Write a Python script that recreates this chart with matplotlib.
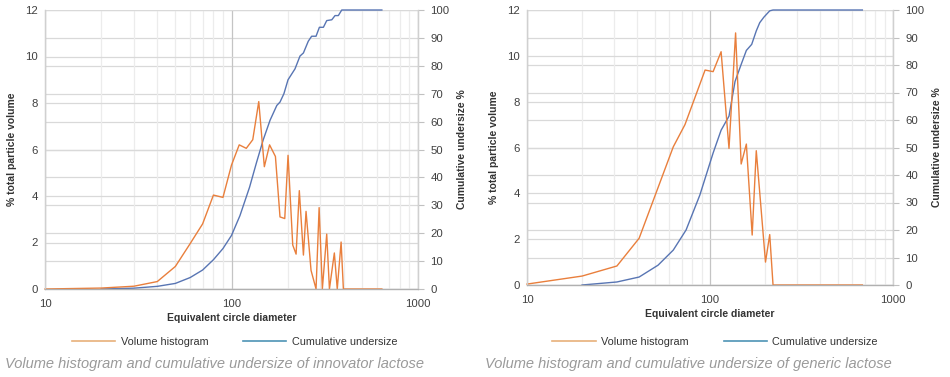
import matplotlib
matplotlib.use("Agg")
import matplotlib.pyplot as plt
from matplotlib.lines import Line2D
from matplotlib.ticker import LogLocator, FixedLocator, NullFormatter

plt.rcParams['font.family'] = ['Liberation Sans', 'DejaVu Sans']

# innovator lactose
inn_hist_x = [10, 20, 30, 40, 50, 60, 70, 80, 90, 100, 110, 120, 130, 140, 150, 160, 172,
              182, 193, 201, 213, 222, 231, 243, 251, 267, 284, 295, 307, 324, 335, 356,
              369, 387, 398, 640]
inn_hist_y = [0, 0.04, 0.12, 0.32, 0.97, 1.95, 2.8, 4.04, 3.94, 5.33, 6.2, 6.05, 6.42, 8.06,
              5.26, 6.2, 5.7, 3.1, 3.03, 5.75, 1.89, 1.5, 4.23, 1.46, 3.34, 0.8, 0, 3.5, 0,
              2.36, 0, 1.55, 0, 2.02, 0, 0]
inn_cum_x = [20, 30, 40, 50, 60, 70, 80, 90, 100, 111, 125, 136, 148, 161, 175, 182, 191,
             201, 219, 233, 243, 258, 269, 284, 296, 311, 324, 345, 359, 374, 390, 640]
inn_cum_y = [0, 0.3, 0.95, 2.0, 4.1, 6.8, 10.5, 14.5, 19.2, 26.3, 36.5, 45.2, 53.5, 60.5,
             65.8, 67.0, 70.0, 75.0, 78.9, 83.5, 84.6, 88.8, 90.6, 90.6, 93.8, 93.8, 96.2,
             96.5, 98.0, 98.0, 100, 100]

# generic lactose
gen_hist_x = [10, 20, 31, 41, 63, 73, 94, 104, 115, 127, 138, 148, 158, 170, 179, 201, 212,
              221, 680]
gen_hist_y = [0.04, 0.39, 0.83, 2.04, 6.03, 7.0, 9.38, 9.31, 10.18, 5.96, 11.0, 5.28, 6.15,
              2.18, 5.86, 1.0, 2.2, 0, 0]
gen_cum_x = [20, 31, 41, 52, 63, 74, 88, 104, 115, 127, 137, 148, 158, 169, 179, 187, 197,
             212, 221, 680]
gen_cum_y = [0, 1.1, 2.9, 7.2, 12.7, 20, 32.7, 48, 56.3, 61.4, 74, 80.2, 85.3, 87.5, 92.4,
             95.4, 97.4, 99.7, 100, 100]

captions = ["Volume histogram and cumulative undersize of innovator lactose",
            "Volume histogram and cumulative undersize of generic lactose"]

ORANGE = '#E97F3C'
BLUE = '#5875B3'
TXT = '#404040'


def draw(fig, rect, hx, hy, cx, cy, leg_x, leg_y):
    ax = fig.add_axes(rect)
    ax2 = ax.twinx()
    # left axes on top so both curves sit above every gridline
    ax.set_zorder(ax2.get_zorder() + 1)
    ax.patch.set_visible(False)

    ax.set_xscale('log')
    ax.set_xlim(10, 1000)
    ax.set_ylim(0, 12)
    ax2.set_ylim(0, 100)
    ax.set_yticks([0, 2, 4, 6, 8, 10, 12])
    ax2.set_yticks(range(0, 101, 10))

    ax.xaxis.set_major_locator(FixedLocator([10, 100, 1000]))
    ax.xaxis.set_major_formatter(plt.FuncFormatter(lambda v, p: f"{int(v)}"))
    ax.xaxis.set_minor_locator(LogLocator(base=10, subs=range(2, 10)))
    ax.xaxis.set_minor_formatter(NullFormatter())

    ax.grid(axis='x', which='major', color='#c4c4c4', lw=0.9)
    ax.grid(axis='x', which='minor', color='#ececec', lw=0.9)
    ax.grid(axis='y', color='#d9d9d9', lw=0.9)
    ax2.grid(axis='y', color='#d9d9d9', lw=0.9)

    for a in (ax, ax2):
        for s in a.spines.values():
            s.set_color('#d0d0d0')
            s.set_linewidth(0.9)
        a.spines['top'].set_visible(False)
    ax.spines['bottom'].set_color('#b0b0b0')

    ax.tick_params(axis='x', which='both', length=0, pad=7, labelsize=8.2, labelcolor=TXT)
    ax.tick_params(axis='y', length=0, pad=5, labelsize=8.2, labelcolor=TXT)
    ax2.tick_params(axis='y', length=4, color='#c0c0c0', pad=5, labelsize=8.2, labelcolor=TXT)

    ax.plot(cx, cy, color=BLUE, lw=1.0, transform=ax2.transData, clip_on=False)
    ax.plot(hx, hy, color=ORANGE, lw=1.0, clip_on=False)

    ax.set_xlabel("Equivalent circle diameter", fontsize=7.5, fontweight='bold',
                  color='#333333', labelpad=3)
    ax.set_ylabel("% total particle volume", fontsize=7.5, fontweight='bold',
                  color='#333333', labelpad=6)
    ax2.set_ylabel("Cumulative undersize %", fontsize=7.5, fontweight='bold',
                   color='#333333', labelpad=5)

    handles = [Line2D([], [], color='#E8B07A', lw=1.2),
               Line2D([], [], color='#4E93B5', lw=1.2)]
    ax.legend(handles, ["Volume histogram", "Cumulative undersize"], ncol=2,
              loc='center', bbox_to_anchor=(leg_x, leg_y), frameon=False,
              fontsize=7.8, handlelength=4.0, handletextpad=0.5, columnspacing=3.2,
              labelcolor='#333333')
    return ax


fig = plt.figure(figsize=(9.5, 3.77), dpi=100)
draw(fig, [45 / 950, 1 - 289 / 377, 373 / 950, 279 / 377],
     inn_hist_x, inn_hist_y, inn_cum_x, inn_cum_y, 0.508, -0.19)
draw(fig, [527 / 950, 1 - 285 / 377, 366 / 950, 275 / 377],
     gen_hist_x, gen_hist_y, gen_cum_x, gen_cum_y, 0.514, -0.207)

fig.text(5 / 950, 1 - 364 / 377, captions[0], fontsize=10.5, style='italic',
         color='#9a9a9a', va='center', ha='left')
fig.text(485 / 950, 1 - 364 / 377, captions[1], fontsize=10.5, style='italic',
         color='#9a9a9a', va='center', ha='left')

fig.savefig("out.png", dpi=100)
